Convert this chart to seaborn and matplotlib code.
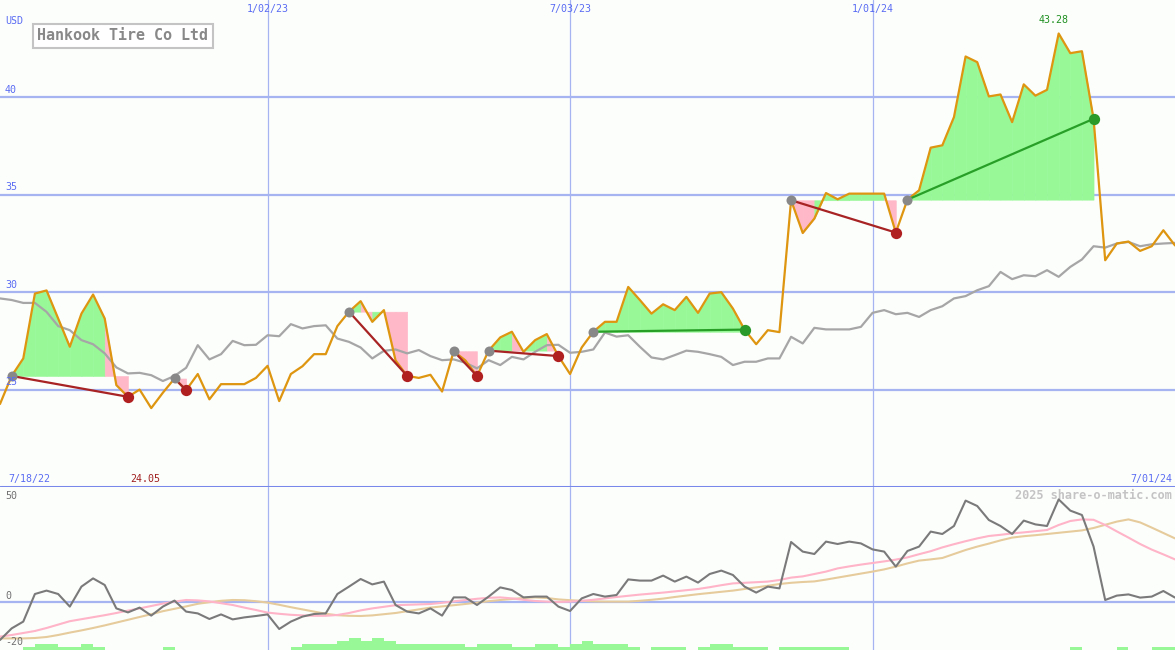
import matplotlib
matplotlib.use('Agg')  # no GUI windows

import numpy as np
import pandas as pd
import matplotlib.pyplot as plt
import matplotlib.dates as mdates
import matplotlib.transforms as mtransforms
import seaborn as sns

# --------------------------------------------------
# Data (weekly, first point = 7/25/22, last = 7/01/24)
# --------------------------------------------------
dates = pd.date_range('2022-07-25', '2024-07-01', freq='7D')

price = [
    24.26, 25.70, 26.60, 29.93, 30.09, 28.65, 27.20, 28.90, 29.88, 28.65,
    25.23, 24.63, 25.00, 24.05, 24.84, 25.57, 24.97, 25.80, 24.50, 25.28,
    25.28, 25.28, 25.60, 26.22, 24.41, 25.80, 26.20, 26.82, 26.82, 28.26,
    29.00, 29.54, 28.48, 29.08, 26.50, 25.70, 25.60, 25.76, 24.90, 26.97,
    26.50, 25.70, 27.00, 27.68, 27.97, 26.94, 27.54, 27.85, 26.72, 25.80,
    27.16, 27.97, 28.48, 28.48, 30.27, 29.60, 28.90, 29.38, 29.08, 29.76,
    28.94, 29.93, 30.00, 29.16, 28.08, 27.33, 28.05, 27.95, 34.72, 33.04,
    33.78, 35.09, 34.77, 35.06, 35.06, 35.06, 35.06, 33.06, 34.75, 35.23,
    37.42, 37.54, 38.99, 42.10, 41.81, 40.05, 40.15, 38.73, 40.67, 40.09,
    40.39, 43.28, 42.27, 42.37, 38.90, 31.64, 32.50, 32.60, 32.12, 32.36,
    33.18, 32.40,
]

avg_price = [
    29.68, 29.60, 29.45, 29.45, 28.99, 28.26, 28.05, 27.54, 27.33, 26.86,
    26.14, 25.83, 25.86, 25.74, 25.44, 25.70, 26.12, 27.28, 26.55, 26.82,
    27.50, 27.28, 27.30, 27.79, 27.74, 28.36, 28.14, 28.26, 28.30, 27.62,
    27.45, 27.16, 26.60, 26.99, 27.06, 26.86, 27.03, 26.72, 26.51, 26.55,
    26.38, 26.09, 26.51, 26.26, 26.68, 26.55, 26.94, 27.28, 27.30, 26.89,
    26.94, 27.06, 27.93, 27.72, 27.79, 27.20, 26.65, 26.55, 26.77, 27.00,
    26.94, 26.82, 26.68, 26.26, 26.43, 26.43, 26.60, 26.60, 27.71, 27.37,
    28.17, 28.09, 28.09, 28.09, 28.22, 28.94, 29.08, 28.87, 28.94, 28.73,
    29.08, 29.28, 29.68, 29.80, 30.10, 30.31, 31.04, 30.67, 30.87, 30.82,
    31.13, 30.79, 31.30, 31.68, 32.36, 32.29, 32.50, 32.58, 32.36, 32.46,
    32.50, 32.53,
]

osc = [
    -19.0, -13.2, -9.8, 4.0, 5.7, 4.0, -2.3, 7.7, 11.8, 8.5,
    -3.2, -5.2, -2.8, -6.8, -2.3, 0.7, -4.8, -5.7, -8.5, -6.2,
    -8.7, -7.7, -7.0, -6.2, -13.5, -9.8, -7.3, -6.0, -5.7, 4.0,
    7.7, 11.5, 8.8, 10.2, -1.5, -4.8, -5.7, -3.2, -6.8, 2.3,
    2.3, -1.5, 2.7, 7.3, 6.0, 2.3, 2.7, 2.7, -2.3, -4.5,
    1.8, 4.0, 2.7, 3.5, 11.3, 10.7, 10.7, 13.2, 10.2, 12.7,
    9.7, 14.0, 15.7, 13.5, 7.7, 4.7, 7.7, 6.8, 30.0, 25.2,
    24.0, 30.2, 29.0, 30.2, 29.3, 26.3, 25.2, 17.7, 25.5, 27.7,
    35.2, 34.0, 38.0, 50.7, 48.0, 41.0, 38.0, 34.0, 40.7, 38.8,
    38.0, 51.3, 45.7, 43.5, 27.7, 1.0, 3.2, 3.8, 2.2, 2.7,
    5.5, 2.2,
]

osc_fast = [
    -17.3, -16.5, -15.5, -14.5, -13.0, -11.3, -9.6, -8.6, -7.6, -6.6,
    -5.5, -4.3, -3.2, -2.0, -0.8, 0.2, 1.0, 0.8, 0.3, -0.6,
    -1.5, -2.8, -4.0, -5.3, -5.9, -6.4, -6.7, -6.9, -6.9, -6.5,
    -5.5, -4.2, -3.2, -2.4, -1.6, -1.4, -1.2, -1.0, -0.4, 0.3,
    1.0, 1.6, 2.1, 2.3, 1.8, 1.1, 0.5, 0.2, 0.0, 0.2,
    0.6, 1.1, 1.8, 2.5, 3.1, 3.7, 4.2, 4.7, 5.3, 5.9,
    6.5, 7.4, 8.4, 9.3, 9.6, 9.9, 10.2, 11.0, 12.2, 12.8,
    14.0, 15.2, 16.8, 17.8, 18.7, 19.5, 20.3, 21.2, 22.3, 23.9,
    25.4, 27.3, 28.9, 30.4, 31.8, 33.0, 33.6, 34.3, 34.8, 35.4,
    36.0, 38.5, 40.5, 41.3, 41.1, 38.5, 35.3, 32.2, 29.0, 26.2,
    23.8, 21.3,
]

osc_slow = [
    -18.2, -18.2, -18.2, -18.0, -17.5, -16.5, -15.3, -14.2, -13.0, -11.7,
    -10.3, -8.9, -7.5, -6.1, -4.6, -3.4, -2.2, -0.9, -0.1, 0.6,
    1.0, 0.9, 0.4, -0.3, -1.4, -2.6, -3.7, -4.8, -5.9, -6.6,
    -6.9, -7.0, -6.7, -6.1, -5.5, -4.6, -3.7, -2.8, -2.2, -1.6,
    -1.0, -0.3, 0.4, 1.0, 1.5, 2.0, 2.3, 2.0, 1.3, 0.9,
    0.6, 0.3, 0.2, 0.2, 0.2, 0.6, 1.1, 1.7, 2.5, 3.2,
    3.9, 4.5, 5.1, 5.7, 6.5, 7.3, 8.1, 9.0, 9.6, 10.0,
    10.3, 11.2, 12.2, 13.2, 14.2, 15.2, 16.3, 17.7, 19.3, 20.7,
    21.3, 22.0, 24.0, 26.0, 27.7, 29.2, 30.8, 32.2, 32.9, 33.4,
    34.0, 34.6, 35.2, 35.8, 37.0, 38.6, 40.2, 41.3, 39.8, 37.2,
    34.5, 31.8,
]

# small green bars at the foot of the lower panel (one per week)
vol_bars = [
    0, 0, 1.5, 3, 3, 1.5, 1.5, 3, 1.5, 0,
    0, 0, 0, 0, 1.5, 0, 0, 0, 0, 0,
    0, 0, 0, 0, 0, 1.5, 3, 3, 3, 4.5,
    6, 4.5, 6, 4.5, 3, 3, 3, 3, 3, 3,
    1.5, 3, 3, 3, 1.5, 1.5, 3, 3, 1.5, 3,
    4.5, 3, 3, 3, 1.5, 0, 1.5, 1.5, 1.5, 0,
    1.5, 3, 3, 1.5, 1.5, 1.5, 0, 1.5, 1.5, 1.5,
    1.5, 1.5, 1.5, 0, 0, 0, 0, 0, 0, 0,
    0, 0, 0, 0, 0, 0, 0, 0, 0, 0,
    0, 0, 1.5, 0, 0, 0, 1.5, 0, 0, 1.5,
    1.5, 0,
]

# trades: (entry week, exit week), week 1 = first point
trades = [(2, 12), (16, 17), (31, 36), (40, 42), (43, 49), (52, 65), (69, 78), (79, 95)]

grid_dates = ['2023-01-02', '2023-07-03', '2024-01-01']
grid_labels = ['1/02/23', '7/03/23', '1/01/24']
price_levels = [25, 30, 35, 40]
osc_labels = [(50, 0.945), (0, 0.331), (-20, 0.049)]

df = pd.DataFrame({'date': dates, 'price': price, 'avg': avg_price,
                   'osc': osc, 'fast': osc_fast, 'slow': osc_slow,
                   'bars': vol_bars})

# --------------------------------------------------
# Style
# --------------------------------------------------
sns.set_style('white')
plt.rcParams['font.family'] = ['DejaVu Sans Mono', 'DejaVu Sans']

BG = '#fcfefc'
GRID = '#a6b4f2'
BLUE_TXT = '#5a6cf2'
GREEN_FILL = '#98f898'
PINK_FILL = '#ffb8c8'
LOSS = '#a82424'
WIN = '#28a028'

fig = plt.figure(figsize=(11.75, 6.5), dpi=100, facecolor=BG)
ax = fig.add_axes([0, 163 / 650, 1, 487 / 650], facecolor=BG)
ax2 = fig.add_axes([0, 0, 1, 163 / 650], facecolor=BG, sharex=ax)

for a in (ax, ax2):
    for s in a.spines.values():
        s.set_visible(False)
    a.tick_params(left=False, bottom=False, labelleft=False, labelbottom=False)
    for d in grid_dates:
        a.axvline(pd.Timestamp(d), color=GRID, lw=0.9, zorder=0)

ax.set_xlim(dates[0], dates[-1])
ax.set_ylim(20, 45)

# --------------------------------------------------
# Main panel
# --------------------------------------------------
for lv in price_levels:
    ax.axhline(lv, color=GRID, lw=1.6, zorder=0)
ax.axhline(20, color='#7888ea', lw=2.2, zorder=6, clip_on=False)

# profit / loss fills for every trade
for e, x_ in trades:
    i0, i1 = e - 1, x_ - 1
    entry = price[i0]
    for i in range(i0, i1):
        col = GREEN_FILL if price[i + 1] >= entry else PINK_FILL
        ax.fill_between(dates[i:i + 2], price[i:i + 2], entry,
                        color=col, lw=0.4, edgecolor=col, zorder=1)

sns.lineplot(data=df, x='date', y='avg', ax=ax, color='#a6a6a6', lw=1.6,
             legend=False, zorder=2)
sns.lineplot(data=df, x='date', y='price', ax=ax, color='#de9510', lw=1.6,
             legend=False, zorder=3)

for e, x_ in trades:
    i0, i1 = e - 1, x_ - 1
    win = price[i1] >= price[i0]
    ax.plot([dates[i0], dates[i1]], [price[i0], price[i1]],
            color=WIN if win else LOSS, lw=1.6, zorder=4)
    ax.scatter([dates[i0]], [price[i0]], s=52, color='#888888', zorder=5, lw=0)
    ax.scatter([dates[i1]], [price[i1]], s=66,
               color='#2a9a2a' if win else '#b02020', zorder=5, lw=0)

ax.set_xlabel('')
ax.set_ylabel('')

trans = mtransforms.blended_transform_factory(ax.transData, ax.transAxes)
for d, lab in zip(grid_dates, grid_labels):
    ax.text(mdates.date2num(pd.Timestamp(d)), 1 - 9 / 487, lab, transform=trans,
            ha='center', va='center', fontsize=7.2, color=BLUE_TXT)

for lv in price_levels:
    ax.text(5 / 1175, lv + 0.12, str(lv), transform=ax.get_yaxis_transform(),
            ha='left', va='bottom', fontsize=7.2, color=BLUE_TXT, zorder=7)
ax.text(5 / 1175, 1 - 21 / 487, 'USD', transform=ax.transAxes,
        ha='left', va='center', fontsize=7.2, color=BLUE_TXT)

ax.text(8 / 1175, 8 / 487, '7/18/22', transform=ax.transAxes,
        ha='left', va='center', fontsize=7.2, color=BLUE_TXT)
ax.text(1172 / 1175, 8 / 487, '7/01/24', transform=ax.transAxes,
        ha='right', va='center', fontsize=7.2, color=BLUE_TXT)

i_min = int(np.argmin(price))
i_max = int(np.argmax(price))
ax.annotate(f'{price[i_min]:.2f}', xy=(mdates.date2num(dates[i_min]), 8 / 487),
            xycoords=trans, xytext=(-4, 0), textcoords='offset points',
            ha='center', va='center', fontsize=7.2, color='#a02020')
ax.annotate(f'{price[i_max]:.2f}', xy=(mdates.date2num(dates[i_max]), 1 - 20 / 487),
            xycoords=trans, xytext=(-4, 0), textcoords='offset points',
            ha='center', va='center', fontsize=7.2, color='#209020')

ax.text(37 / 1175, 1 - 36 / 487, 'Hankook Tire Co Ltd', transform=ax.transAxes,
        ha='left', va='center', fontsize=10.8, fontweight='bold', color='#888888',
        bbox=dict(boxstyle='square,pad=0.3', fc='white', ec='#c4c4c4', lw=1.5),
        zorder=8)

# --------------------------------------------------
# Lower panel
# --------------------------------------------------
ax2.axhline(0, color=GRID, lw=1.6, zorder=0)
ax2.bar(dates, df['bars'], width=7, align='edge', bottom=-24,
        color=GREEN_FILL, lw=0, zorder=1)

sns.lineplot(data=df, x='date', y='slow', ax=ax2, color='#e6cc9c', lw=1.5,
             legend=False, zorder=2)
sns.lineplot(data=df, x='date', y='fast', ax=ax2, color='#ffb4c8', lw=1.5,
             legend=False, zorder=3)
sns.lineplot(data=df, x='date', y='osc', ax=ax2, color='#7a7a7a', lw=1.5,
             legend=False, zorder=4)
ax2.set_xlabel('')
ax2.set_ylabel('')
ax2.set_xlim(dates[0], dates[-1])
ax2.set_ylim(-24, 57.5)

for val, yf in osc_labels:
    ax2.text(5 / 1175, yf, str(val), transform=ax2.transAxes,
             ha='left', va='center', fontsize=7.2, color='#707070')
ax2.text(1172 / 1175, 0.945, '2025 share-o-matic.com', transform=ax2.transAxes,
         ha='right', va='center', fontsize=8.6, fontweight='bold', color='#c4c4c4')

fig.savefig('out.png', dpi=100, facecolor=BG)
plt.close(fig)
